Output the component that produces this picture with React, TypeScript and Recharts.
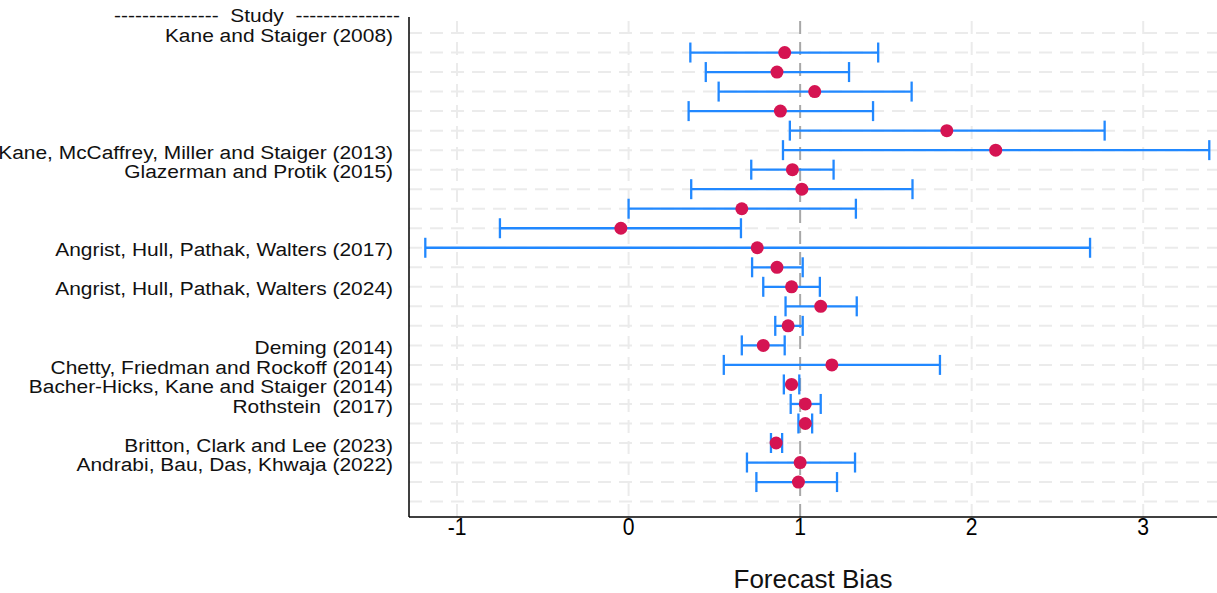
import React from 'react';
import {
  ScatterChart,
  Scatter,
  XAxis,
  YAxis,
  ErrorBar,
  ReferenceLine,
} from 'recharts';

// study labels and the row they sit on (row 0 = top)
const STUDY_LABELS = [
  'Kane and Staiger (2008)',
  'Kane, McCaffrey, Miller and Staiger (2013)',
  'Glazerman and Protik (2015)',
  'Angrist, Hull, Pathak, Walters (2017)',
  'Angrist, Hull, Pathak, Walters (2024)',
  'Deming (2014)',
  'Chetty, Friedman and Rockoff (2014)',
  'Bacher-Hicks, Kane and Staiger (2014)',
  'Rothstein  (2017)',
  'Britton, Clark and Lee (2023)',
  'Andrabi, Bau, Das, Khwaja (2022)',
];
const LABEL_ROWS = [0, 6, 7, 11, 13, 16, 17, 18, 19, 21, 22];

// estimates with 95% intervals
const EST_ROWS = [1, 2, 3, 4, 5, 6, 7, 8, 9, 10, 11, 12, 13, 14, 15, 16, 17, 18, 19, 20, 21, 22, 23];
const ESTIMATES = [0.91, 0.865, 1.085, 0.885, 1.855, 2.14, 0.955, 1.01, 0.66, -0.045, 0.75, 0.865, 0.95, 1.12, 0.93, 0.785, 1.185, 0.95, 1.03, 1.03, 0.86, 1.0, 0.99];
const LOWER = [0.36, 0.45, 0.525, 0.35, 0.94, 0.9, 0.715, 0.365, 0.0, -0.75, -1.185, 0.72, 0.785, 0.915, 0.855, 0.66, 0.555, 0.905, 0.945, 0.99, 0.83, 0.69, 0.745];
const UPPER = [1.455, 1.285, 1.65, 1.425, 2.775, 3.385, 1.195, 1.655, 1.325, 0.655, 2.69, 1.015, 1.115, 1.33, 1.015, 0.91, 1.815, 0.995, 1.12, 1.07, 0.895, 1.32, 1.215];

const X_TICKS = [-1, 0, 1, 2, 3];
const GRID_ROWS = Array.from({ length: 25 }, (_, i) => i);

const FONT = 'Arial, "Liberation Sans", sans-serif';

const data = EST_ROWS.map((row, i) => ({
  row,
  est: ESTIMATES[i],
  err: [ESTIMATES[i] - LOWER[i], UPPER[i] - ESTIMATES[i]],
}));

const labelFor = (row: number) => {
  const i = LABEL_ROWS.indexOf(row);
  return i >= 0 ? STUDY_LABELS[i] : '';
};

const StudyTick = (props: any) => {
  const { x, y, payload } = props;
  return (
    <text
      transform={`translate(${x},${y + 2}) scale(1.12,1)`}
      textAnchor="end"
      dominantBaseline="central"
      fontSize={18.7}
      fontFamily={FONT}
      fill="#111"
      style={{ whiteSpace: 'pre' }}
    >
      {labelFor(payload.value)}
    </text>
  );
};

const BiasTick = (props: any) => {
  const { x, y, payload } = props;
  return (
    <text
      transform={`translate(${x},${y}) scale(0.88,1)`}
      textAnchor="middle"
      dominantBaseline="hanging"
      fontSize={24}
      fontFamily={FONT}
      fill="#000"
    >
      {payload.value}
    </text>
  );
};

const Dot = (props: any) => <circle cx={props.cx} cy={props.cy} r={6.5} fill="#d51452" />;

export default function App() {
  return (
    <div style={{ position: 'absolute', left: 0, top: 0, width: 1217, height: 593, background: '#fff', overflow: 'hidden' }}>
      <ScatterChart width={1217} height={593} margin={{ top: 17, right: 0, bottom: 0, left: 0 }}>
        <XAxis
          type="number"
          dataKey="est"
          domain={[-1.28, 3.43]}
          allowDataOverflow
          ticks={X_TICKS}
          interval={0}
          height={76}
          tickLine={false}
          tickSize={0}
          tickMargin={1}
          axisLine={{ stroke: '#000', strokeWidth: 1.5 }}
          tick={<BiasTick />}
          label={{ value: 'Forecast Bias', position: 'insideBottom', offset: 5, fontSize: 26, fill: '#111', fontFamily: FONT }}
        />
        <YAxis
          type="number"
          dataKey="row"
          reversed
          domain={[-0.82, 24.79]}
          allowDataOverflow
          ticks={LABEL_ROWS}
          interval={0}
          width={409}
          tickLine={false}
          tickSize={0}
          tickMargin={16}
          axisLine={{ stroke: '#000', strokeWidth: 1.5 }}
          tick={<StudyTick />}
        />
        {GRID_ROWS.map((r) => (
          <ReferenceLine key={`h${r}`} y={r} stroke="#ebebeb" strokeWidth={2} strokeDasharray="13 8" />
        ))}
        {X_TICKS.filter((t) => t !== 1).map((t) => (
          <ReferenceLine key={`v${t}`} x={t} stroke="#ebebeb" strokeWidth={2} strokeDasharray="13 8" />
        ))}
        <ReferenceLine x={1} stroke="#a8a8a8" strokeWidth={2} strokeDasharray="13 8" />
        <Scatter data={data} shape={<Dot />} isAnimationActive={false}>
          <ErrorBar dataKey="err" direction="x" width={10} stroke="#2188ff" strokeWidth={2.3} isAnimationActive={false} />
        </Scatter>
      </ScatterChart>
      <svg width={1217} height={40} style={{ position: 'absolute', left: 0, top: 0, pointerEvents: 'none' }}>
        <text
          transform="translate(400,15) scale(1.12,1)"
          textAnchor="end"
          dominantBaseline="central"
          fontSize={18.7}
          fontFamily={FONT}
          fill="#111"
          style={{ whiteSpace: 'pre' }}
        >
          {'---------------  Study  ---------------'}
        </text>
      </svg>
    </div>
  );
}
